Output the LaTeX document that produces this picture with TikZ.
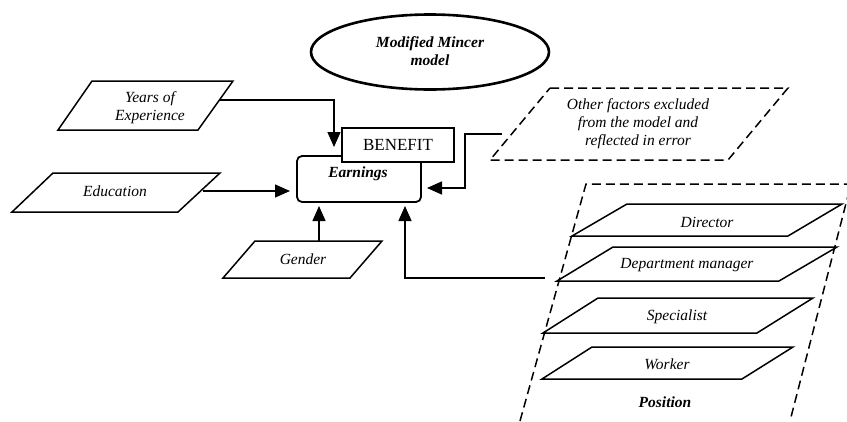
\documentclass[tikz,border=0pt]{standalone}
\usepackage{fontspec}
\setmainfont{Liberation Serif}
\usetikzlibrary{arrows.meta,shapes.geometric}
\begin{document}
\begin{tikzpicture}[x=1pt,y=-1pt,
  para/.style={line width=1.5pt, line join=miter},
  dpara/.style={line width=1.5pt, dash pattern=on 9pt off 5pt},
  lbl/.style={font=\fontsize{15.5}{18}\selectfont\itshape, align=center, inner sep=0pt},
  blbl/.style={font=\fontsize{15.5}{18}\selectfont\bfseries\itshape, align=center, inner sep=0pt},
  conn/.style={line width=1.4pt, -{Triangle[length=15pt,width=13pt]}},
]
\useasboundingbox (0,0) rectangle (847,421);

% model title
\node[draw, ellipse, line width=2.6pt, minimum width=238pt, minimum height=75pt] (mincer) at (430,52) {};
\node[blbl] (mincerlbl) at (430,51) {Modified Mincer\\model};

% input factors
\draw[para] (92,81) -- (233,81) -- (198,130) -- (58,130) -- cycle;
\node[lbl] (years) at (150,108) {Years of\\Experience};
\coordinate (years-out) at (220,100);

\draw[para] (53,173) -- (220,173) -- (178,212) -- (12,212) -- cycle;
\node[lbl] (edu) at (115,191) {Education};
\coordinate (edu-out) at (203,191);

\draw[para] (255,241) -- (382,241) -- (350,278) -- (223,278) -- cycle;
\node[lbl] (gender) at (303,259) {Gender};
\coordinate (gender-out) at (319,241);

% unobserved factors
\draw[dpara] (550,88) -- (788,88) -- (728,160) -- (490,160) -- cycle;
\node[lbl] (other) at (638,124) {Other factors excluded\\from the model and\\reflected in error};
\coordinate (other-out) at (502,134);

% position group
\draw[dpara] (520,421) -- (586,184) -- (851,184) -- (790,421);
\draw[para] (627,204) -- (842,204) -- (788,236) -- (572,236) -- cycle;
\node[lbl] (dir) at (707,222) {Director};
\draw[para] (613,247) -- (837,247) -- (779,281) -- (557,281) -- cycle;
\node[lbl] (mgr) at (687,265) {Department manager};
\draw[para] (598,298) -- (813,298) -- (757,333) -- (543,333) -- cycle;
\node[lbl] (spec) at (677,317) {Specialist};
\draw[para] (592,347) -- (793,347) -- (742,379) -- (542,379) -- cycle;
\node[lbl] (worker) at (667,364) {Worker};
\node[blbl] (position) at (665,402) {Position};
\coordinate (pos-out) at (545,278);

% outcome
\node[draw, rounded corners=5pt, line width=1.8pt, minimum width=124pt, minimum height=46pt] (earn) at (359,179) {};
\node[blbl] (earnlbl) at (358,174) {Earnings};
\node[draw, fill=white, line width=1.1pt, minimum width=112pt, minimum height=34pt,
      font=\fontsize{17}{20}\selectfont, inner sep=0pt] (benefit) at (398,145) {BENEFIT};

% arrow end points on the outcome box
\coordinate (in-years) at (334,147);
\coordinate (in-edu) at (290,191);
\coordinate (in-gender) at (319,206);
\coordinate (in-pos) at (405,206);
\coordinate (in-other) at (427,188);
\coordinate (other-bend) at (465,134);

% connectors
\draw[conn] (years-out) -| (in-years);
\draw[conn] (edu-out) -- (in-edu);
\draw[conn] (gender-out) -- (in-gender);
\draw[conn] (pos-out) -| (in-pos);
\draw[conn] (other-out) -- (other-bend) |- (in-other);
\end{tikzpicture}
\end{document}
